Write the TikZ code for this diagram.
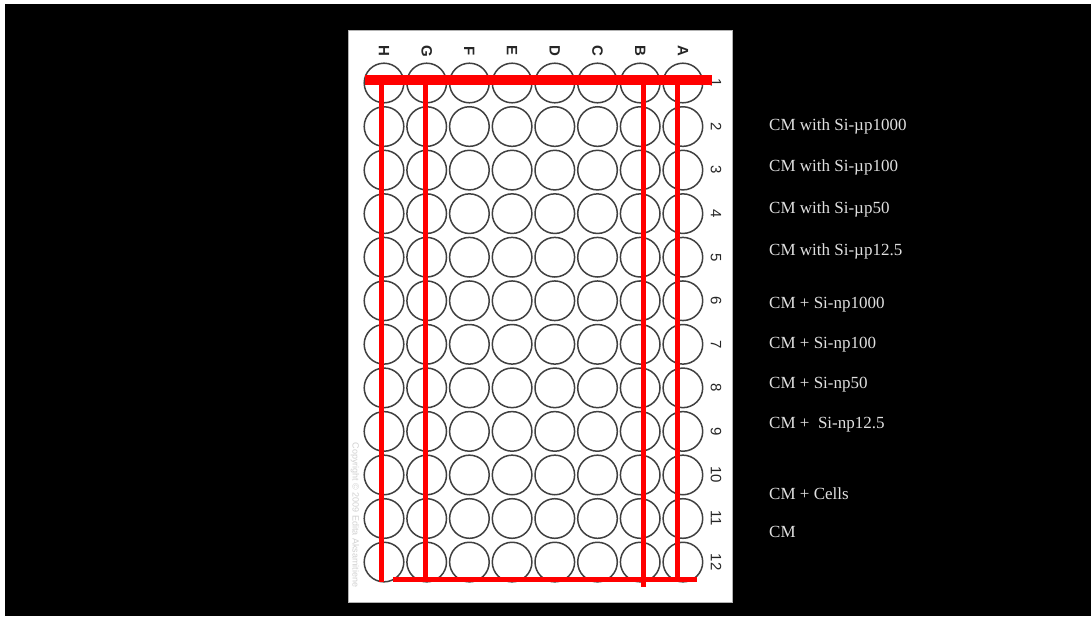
\documentclass[tikz,border=0pt]{standalone}
\usepackage{fontspec}
\setmainfont{Liberation Serif}
\newfontfamily\platefont{Liberation Sans}
\begin{document}
\begin{tikzpicture}[x=1pt,y=-1pt,
  well/.style={draw=black!75,line width=1.5pt},
  collabel/.style={font=\platefont\bfseries\fontsize{15}{15}\selectfont,text=black!85,rotate=-90,inner sep=0pt},
  rowlabel/.style={font=\platefont\fontsize{15}{15}\selectfont,text=black!85,rotate=-90,inner sep=0pt},
  redthick/.style={draw=red,line width=10pt},
  redthin/.style={draw=red,line width=5pt},
  legend/.style={anchor=west,inner sep=0pt,text=white!88!black,font=\fontsize{17}{19}\selectfont}]
\useasboundingbox (0,0) rectangle (1091,616);
\fill[white] (0,0) rectangle (1091,616);
\fill[black] (5,4) rectangle (1091,616);
% plate
\fill[white,draw=black!30,line width=1pt] (348,30) rectangle (732,602);
% wells
\foreach \c [count=\j from 0] in {H,G,F,E,D,C,B,A} {
  \node[collabel] (lab\c) at ({384+42.7*\j},51) {\c};
  \foreach \r in {1,...,12} {
    \draw[well] ({384+42.7*\j},{83+43.55*(\r-1)}) circle (19.8);
  }
}
\foreach \r in {1,...,12} {
  \node[rowlabel] (row\r) at (716,{83+43.55*(\r-1)}) {\r};
}
\node[rotate=-90,text=black!18,font=\platefont\fontsize{9}{9}\selectfont,inner sep=0pt] (copy) at (355,515) {Copyright \textcopyright{} 2009 Edita Aksamitiene};
% red lines
\draw[redthin] (381,85) -- (381,582);
\draw[redthin] (425,85) -- (425,582);
\draw[redthin] (643,85) -- (643,587);
\draw[redthin] (677,85) -- (677,582);
\draw[redthin] (393,579) -- (697,579);
\draw[redthick] (365,80) -- (712,80);
% legend
\node[legend] (t1) at (769,126) {CM with Si-µp1000};
\node[legend] (t2) at (769,167) {CM with Si-µp100};
\node[legend] (t3) at (769,209) {CM with Si-µp50};
\node[legend] (t4) at (769,251) {CM with Si-µp12.5};
\node[legend] (t5) at (769,305) {CM + Si-np1000};
\node[legend] (t6) at (769,345) {CM + Si-np100};
\node[legend] (t7) at (769,385) {CM + Si-np50};
\node[legend] (t8) at (769,425) {CM + \ Si-np12.5};
\node[legend] (t9) at (769,494) {CM + Cells};
\node[legend] (t10) at (769,532) {CM};
\end{tikzpicture}
\end{document}
